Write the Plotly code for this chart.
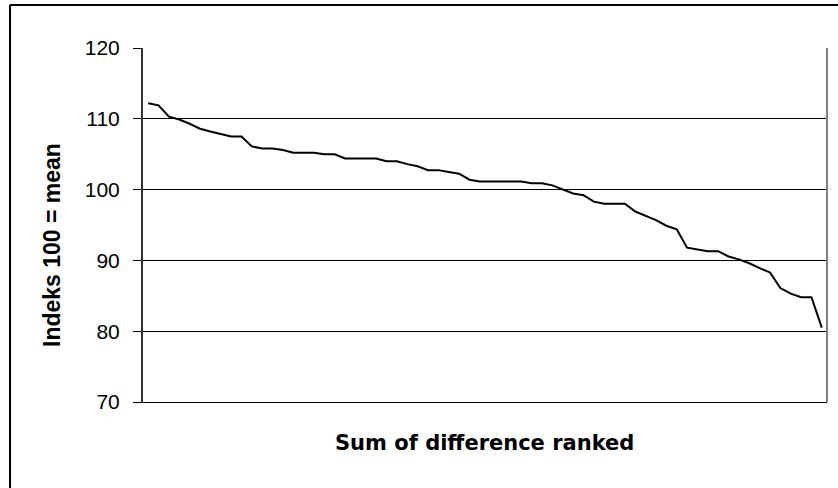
import plotly.graph_objects as go

# Ranked index values (100 = mean), highest to lowest
index_values = [
    112.2, 111.9, 110.3, 109.9, 109.3, 108.6, 108.2, 107.8, 107.5, 107.5,
    106.1, 105.8, 105.8, 105.6, 105.2, 105.2, 105.2, 105.0, 105.0, 104.4,
    104.4, 104.4, 104.4, 104.0, 104.0, 103.6, 103.3, 102.75, 102.75, 102.5,
    102.25, 101.4, 101.15, 101.15, 101.15, 101.15, 101.15, 100.9, 100.9, 100.6,
    100.0, 99.45, 99.2, 98.3, 98.0, 98.0, 98.0, 96.9, 96.25, 95.7,
    94.9, 94.4, 91.8, 91.5, 91.3, 91.3, 90.55, 90.15, 89.6, 88.9,
    88.3, 86.1, 85.3, 84.8, 84.8, 80.5,
]
rank = list(range(1, len(index_values) + 1))

y_ticks = [70, 80, 90, 100, 110, 120]
y_title = "Indeks 100 = mean"
x_title = "Sum of difference ranked"

W, H = 838, 488
L, R, T, B = 143, 11, 48, 86
pw, ph = W - L - R, H - T - B


def px_x(x):
    return (x - L) / pw


def px_y(y):
    return (H - B - y) / ph


fig = go.Figure()
fig.add_trace(go.Scatter(
    x=rank, y=index_values, mode="lines",
    line=dict(color="black", width=2), hoverinfo="skip", showlegend=False,
))

fig.update_layout(
    width=W, height=H,
    margin=dict(l=L, r=R, t=T, b=B, pad=0),
    paper_bgcolor="white", plot_bgcolor="white",
    font=dict(family="Liberation Sans, Arial, sans-serif", color="black"),
    xaxis=dict(
        range=[0.5, len(index_values) + 0.5],
        showgrid=False, zeroline=False, showticklabels=False, ticks="",
        showline=True, linecolor="black", linewidth=1, mirror=False,
    ),
    yaxis=dict(
        range=[70, 120], tickvals=y_ticks, ticktext=[str(v) for v in y_ticks],
        showgrid=True, gridcolor="black", gridwidth=1, zeroline=False,
        ticks="outside", ticklen=8, tickcolor="black", tickwidth=1,
        ticklabelstandoff=9,
        tickfont=dict(family="Liberation Sans, Arial, sans-serif", size=21, color="black"),
        showline=True, linecolor="#333333", linewidth=2,
    ),
    shapes=[
        # grey right edge of the plotting area
        dict(type="line", xref="paper", yref="paper", x0=1, x1=1, y0=0, y1=1,
             line=dict(color="#808080", width=2)),
        # outer chart frame (left and top edges)
        dict(type="line", xref="paper", yref="paper",
             x0=px_x(10), x1=px_x(10), y0=px_y(5), y1=px_y(H + 10),
             line=dict(color="black", width=2)),
        dict(type="line", xref="paper", yref="paper",
             x0=px_x(10), x1=px_x(W + 10), y0=px_y(5), y1=px_y(5),
             line=dict(color="black", width=2)),
    ],
    annotations=[
        dict(text=f"<b>{x_title}</b>", xref="paper", yref="paper",
             x=px_x(484), y=px_y(443), xanchor="center", yanchor="middle",
             showarrow=False,
             font=dict(family="DejaVu Sans, sans-serif", size=21, color="black")),
        dict(text=f"<b>{y_title}</b>", xref="paper", yref="paper",
             x=px_x(52), y=px_y(245), xanchor="center", yanchor="middle",
             textangle=-90, showarrow=False,
             font=dict(family="Liberation Sans, Arial, sans-serif", size=23, color="black")),
    ],
)

fig.write_html("out.html")
